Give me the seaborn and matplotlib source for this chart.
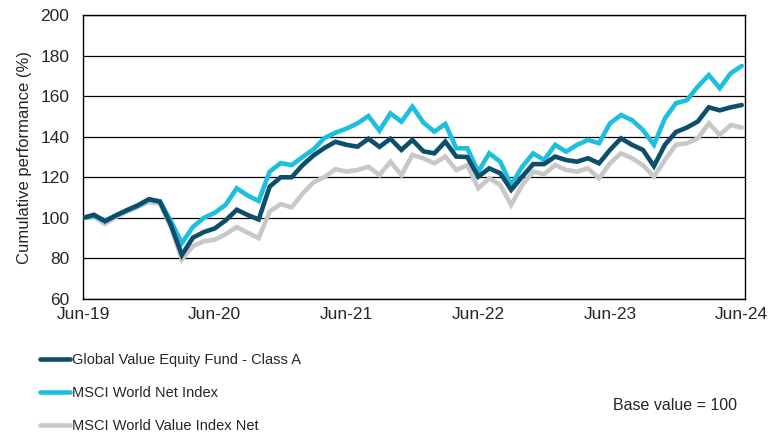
import numpy as np
import pandas as pd
import seaborn as sns
import matplotlib.pyplot as plt

# monthly cumulative performance, Jun-19 .. Jun-24 (base 100)
fund = [100, 101.5, 98.3, 101.2, 103.8, 106.2, 109.2, 108, 96.5, 81.7,
        90.2, 93, 94.8, 98.8, 104, 101.4, 99.2, 115.4, 120, 120,
        126, 130.8, 134.5, 137.5, 136, 135.1, 139, 135, 139, 133.5,
        138.4, 132.8, 131.8, 137.6, 130.2, 130, 120.3, 124.4, 122, 113.8,
        120.3, 126.5, 126.5, 130.2, 128.5, 127.7, 129.4, 126.9, 133.5, 139.2,
        136, 133.5, 125.5, 136, 142.3, 144.5, 147.5, 154.5, 153, 154.5,
        155.6]
msci_world = [100, 101, 98.6, 101.2, 103.6, 105.8, 109, 108.2, 98.5, 87.5,
              95.5, 100, 102.5, 106.5, 114.6, 111, 108.3, 122.8, 127, 126,
              130, 133.8, 139.4, 142, 144, 146.6, 150.2, 143, 151.5, 147.4,
              154.8, 147, 142.5, 146.3, 134.3, 134.3, 122.8, 131.8, 127.7, 116.2,
              125.2, 131.8, 128.5, 136, 132.6, 136, 138.4, 136.8, 146.6, 150.7,
              148.2, 143.3, 136, 149, 156.5, 158, 164.7, 170.4, 163.9, 171.3,
              174.9]
msci_value = [100, 100.5, 97, 100.5, 103, 105.5, 107.8, 107, 95.5, 79.5,
              86, 88.5, 89.2, 92, 95.5, 92.7, 90, 103.1, 106.8, 105.2,
              112, 117.5, 120.2, 124, 122.8, 123.6, 125.2, 121.1, 127.7, 121.1,
              131, 129.4, 126.9, 130.2, 123.6, 126, 114.6, 119.5, 116.2, 106.4,
              116.2, 122.8, 121.5, 126, 123.6, 122.8, 124.4, 119.5, 126.9, 131.8,
              129.4, 126, 120.3, 128.5, 136, 136.8, 139.2, 146.6, 140.9, 145.8,
              144.5]

names = ["Global Value Equity Fund - Class A", "MSCI World Net Index",
         "MSCI World Value Index Net"]
colors = ["#0c4e6c", "#1cc0de", "#c8c8c8"]
tick_labels = ["Jun-19", "Jun-20", "Jun-21", "Jun-22", "Jun-23", "Jun-24"]

months = np.arange(len(fund))
df = pd.DataFrame({"month": np.tile(months, 3),
                   "value": fund + msci_world + msci_value,
                   "series": np.repeat(names, len(fund))})

sns.set_style("white")
plt.rcParams["font.family"] = ["Liberation Sans", "DejaVu Sans"]

fig = plt.figure(figsize=(7.79, 4.36), dpi=100)
ax = fig.add_axes([0.1066, 0.3142, 0.8498, 0.6514])

# draw value first, then world, fund on top
for name, col, z in zip(names[::-1], colors[::-1], [2, 3, 4]):
    sub = df[df["series"] == name]
    sns.lineplot(data=sub, x="month", y="value", color=col, lw=3.3,
                 ax=ax, zorder=z, label=name, solid_capstyle="round",
                 solid_joinstyle="miter")

ax.set_xlim(0, 60.3)
ax.set_ylim(60, 200)
ax.set_yticks(range(60, 201, 20))
ax.set_xticks(range(0, 61, 12))
ax.set_xticklabels(tick_labels)
ax.yaxis.grid(True, color="black", lw=0.9)
ax.set_axisbelow(True)
for s in ax.spines.values():
    s.set_color("black")
    s.set_linewidth(1.0)
ax.tick_params(labelsize=12.5, length=0)
ax.tick_params(axis="y", pad=10)
ax.tick_params(axis="x", pad=6)
ax.set_xlabel("")
ax.set_ylabel("Cumulative performance (%)", fontsize=12, labelpad=6)

handles, labels = ax.get_legend_handles_labels()
ax.get_legend().remove()
order = [labels.index(n) for n in names]
fig.legend([handles[i] for i in order], [labels[i] for i in order],
           loc="upper left", bbox_to_anchor=(0.044, 0.203), frameon=False,
           fontsize=10.5, handlelength=2.05, handletextpad=0.15,
           labelspacing=1.3, borderaxespad=0)

fig.text(0.787, 0.06, "Base value = 100", fontsize=11.5)

fig.savefig("out.png", dpi=100)
